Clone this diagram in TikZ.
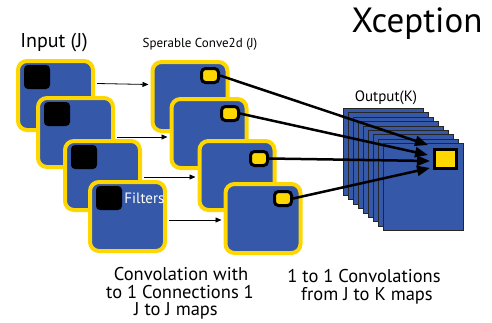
\documentclass[tikz,border=0pt]{standalone}
\usepackage{fontspec}
\setmainfont{PT Sans}
\usetikzlibrary{arrows.meta,calc}
\definecolor{tileblue}{HTML}{3558A8}
\definecolor{tileyellow}{HTML}{FFD700}
\begin{document}
\begin{tikzpicture}[x=1pt,y=-1pt,
  tile/.style={draw=tileyellow, fill=tileblue, line width=4pt, rounded corners=9pt,
    minimum width=75pt, minimum height=69pt, inner sep=0pt},
  filt/.style={fill=black, rounded corners=4pt, minimum width=26pt, minimum height=24pt, inner sep=0pt},
  ysq/.style={fill=tileyellow, draw=black, line width=3pt, rounded corners=4pt,
    minimum width=17pt, minimum height=14pt, inner sep=0pt},
  outmap/.style={fill=tileblue, draw=black!85, line width=0.8pt, minimum width=80pt,
    minimum height=87pt, inner sep=0pt, anchor=north west},
  thinarrow/.style={draw=black, line width=0.8pt, -{Triangle[length=6pt,width=5pt]}},
  bigarrow/.style={draw=black, line width=2.5pt, -{Triangle[length=13pt,width=10pt]}},
  lbl/.style={inner sep=0pt, align=center},
  captext/.style={inner sep=0pt, font=\fontsize{18.5}{18}\selectfont, text height=0.7em, text depth=0.18em}
]
\useasboundingbox (0,0) rectangle (492,322);
% input maps
\node[tile] (T1) at (55.5,95.5) {};
\node[filt] (F1) at ($(T1)+(-18.5,-18.5)$) {};
\node[tile] (T2) at (75.5,132.5) {};
\node[filt] (F2) at ($(T2)+(-18.5,-18.5)$) {};
\node[tile] (T3) at (102.5,175.5) {};
\node[filt] (F3) at ($(T3)+(-18.5,-18.5)$) {};
\node[tile] (T4) at (127.5,216.5) {};
\node[filt] (F4) at ($(T4)+(-18.5,-18.5)$) {};
\node[lbl, text=white, font=\fontsize{15}{18}\selectfont, anchor=west] (FL) at ($(F4.east)+(2,0)$) {Filters};
% separable conv maps
\node[tile] (S1) at (190,96.5) {};
\node[ysq] (Q1) at ($(S1)+(20,-21)$) {};
\node[tile] (S2) at (209,133.5) {};
\node[ysq] (Q2) at ($(S2)+(21,-20)$) {};
\node[tile] (S3) at (237,175.5) {};
\node[ysq] (Q3) at ($(S3)+(22,-17)$) {};
\node[tile] (S4) at (263,218.5) {};
\node[ysq] (Q4) at ($(S4)+(20,-20)$) {};
% thin arrows
\draw[thinarrow] ($(T1.east)+(2,-12)$) -- ($(S1.west)+(-2,-12)$);
\draw[thinarrow] ($(T2.east)+(2,4.5)$) -- ($(S2.west)+(-2,3.5)$);
\draw[thinarrow] ($(T3.east)+(2,1.5)$) -- ($(S3.west)+(-2,1.5)$);
\draw[thinarrow] ($(T4.east)+(2,3.5)$) -- ($(S4.west)+(-2,1.5)$);
% output stack
\foreach \i in {0,...,8} {
  \node[outmap] (O\i) at ({343+5*\i},{108+4.375*\i}) {};
}
\node[ysq, minimum width=22pt, minimum height=19pt, rounded corners=0pt] (Y) at ($(O8.north west)+(62.5,16)$) {};
\coordinate (E1) at ($(Y.west)+(-5,-14)$);
\coordinate (E2) at ($(Y.west)+(-5,-4)$);
\coordinate (E3) at ($(Y.west)+(-3,2)$);
\coordinate (E4) at ($(Y.west)+(-3,9)$);
\draw[bigarrow] (Q1.east) -- (E1);
\draw[bigarrow] (Q2.east) -- (E2);
\draw[bigarrow] (Q3.east) -- (E3);
\draw[bigarrow] (Q4.east) -- (E4);
% labels
\node[lbl, font=\fontsize{35}{38}\selectfont] (title) at (417,24) {Xception};
\node[lbl, font=\fontsize{20}{24}\selectfont] (inlbl) at (54,43) {Input (J)};
\node[lbl, font=\fontsize{13}{16}\selectfont] (splbl) at (200,44) {Sperable Conve2d (J)};
\node[lbl, font=\fontsize{15}{18}\selectfont] (outlbl) at (386,98) {Output(K)};
\node[captext] (c1) at (181,278) {Convolation with};
\node[captext] (c2) at (180,296) {to 1 Connections 1};
\node[captext] (c3) at (176,313) {J to J maps};
\node[captext] (d1) at (364,280) {1 to 1 Convolations};
\node[captext] (d2) at (367,298) {from J to K maps};
\end{tikzpicture}
\end{document}
